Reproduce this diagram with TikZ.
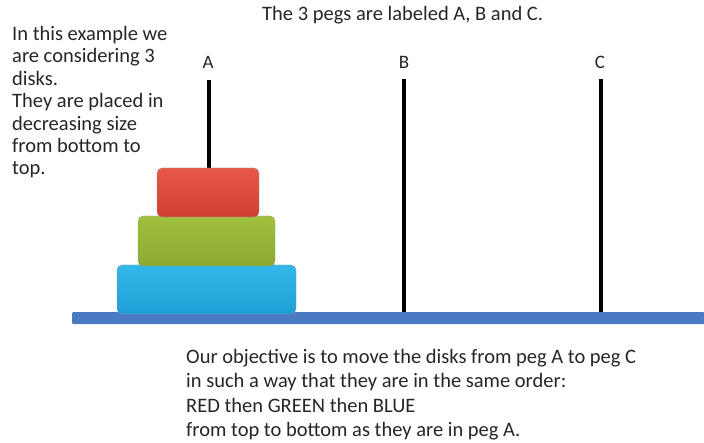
\documentclass[tikz,border=0pt]{standalone}
\usepackage{fontspec}
\setmainfont{Carlito}
\definecolor{basecol}{HTML}{4A7BC2}
\definecolor{redtop}{HTML}{E8594A}
\definecolor{redbot}{HTML}{CF3E30}
\definecolor{grntop}{HTML}{A2C03F}
\definecolor{grnbot}{HTML}{8BAA2F}
\definecolor{blutop}{HTML}{33B8EA}
\definecolor{blubot}{HTML}{1E9FD6}
\begin{document}
\begin{tikzpicture}[x=1pt,y=-1pt,
  txt/.style={font=\fontsize{20.5}{22.4}\selectfont, inner sep=0pt, align=left, text=black!85},
  btxt/.style={font=\fontsize{20.5}{24.4}\selectfont, inner sep=0pt, align=left, text=black!85},
  lbl/.style={font=\fontsize{19}{20}\selectfont, inner sep=0pt, text=black!85},
  peg/.style={line width=3.6pt, black},
  disk/.style={rounded corners=5pt, draw=white!60!black, line width=0.3pt}]
\useasboundingbox (0,0) rectangle (704,443);
% base
\node[fill=basecol, rounded corners=1pt, minimum width=632pt, minimum height=12pt, inner sep=0pt, anchor=north west] (base) at (72,312) {};
% pegs
\coordinate (topA) at (209,80);
\coordinate (topB) at (404,79);
\coordinate (topC) at (601,79);
\draw[peg] (topA) -- (topA |- base.north);
\draw[peg] (topB) -- (topB |- base.north);
\draw[peg] (topC) -- (topC |- base.north);
% labels
\node[lbl] (la) at (208,62) {A};
\node[lbl] (lb) at (404,62) {B};
\node[lbl] (lc) at (600,62) {C};
% disks
\shade[disk, top color=blutop, bottom color=blubot] (117,265) rectangle (296,314);
\node[inner sep=0pt] (blue) at (206.5,289.5) {};
\shade[disk, top color=grntop, bottom color=grnbot] (138,216) rectangle (275,266);
\node[inner sep=0pt] (green) at (206.5,241) {};
\shade[disk, top color=redtop, bottom color=redbot] (157,168) rectangle (259,217);
\node[inner sep=0pt] (red) at (208,192) {};
% texts
\node[txt, anchor=west] (title) at (262,15) {The 3 pegs are labeled A, B and C.};
\node[txt, anchor=north west] (left) at (12,26) {In this example we\\are considering 3\\disks.\\They are placed in\\decreasing size\\from bottom to\\top.};
\node[btxt, anchor=north west] (bottom) at (186,349) {Our objective is to move the disks from peg A to peg C\\in such a way that they are in the same order:\\RED then GREEN then BLUE\\from top to bottom as they are in peg A.};
\end{tikzpicture}
\end{document}
